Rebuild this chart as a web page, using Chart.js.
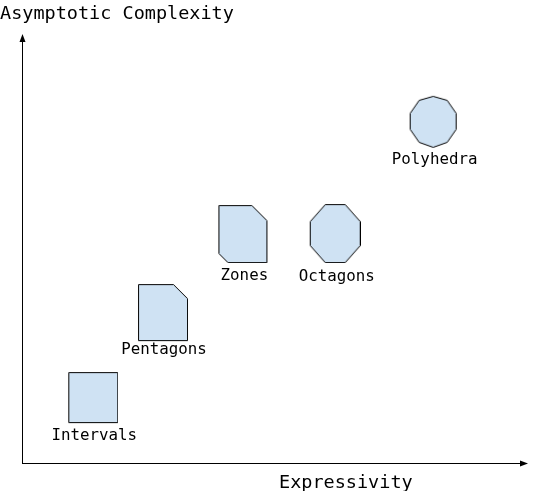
<!DOCTYPE html>
<html><head><meta charset="utf-8">
<script src="https://cdn.jsdelivr.net/npm/chart.js@4"></script>
<style>html,body{margin:0;padding:0;background:#fff}#w{width:535px;height:491px}</style>
</head><body><div id="w"><canvas id="c"></canvas></div>
<script>
const categories = ["Intervals","Pentagons","Zones","Octagons","Polyhedra"];
const expressivity = [14.0, 27.9, 43.9, 62.3, 81.8];
const complexity = [15.5, 35.5, 54.1, 54.1, 80.5];
const shapes = ["square","pentagon","zone","octagon","decagon"];

const FILL = "#cfe2f3";
function makeShape(kind){
  const W=52,H=60,c=document.createElement('canvas');c.width=W;c.height=H;
  const g=c.getContext('2d');g.fillStyle=FILL;g.strokeStyle='#000';g.lineWidth=1;
  let pts=[];
  const cx=W/2,cy=H/2;
  if(kind==="square"){const w=49,h=50;pts=[[cx-w/2,cy-h/2],[cx+w/2,cy-h/2],[cx+w/2,cy+h/2],[cx-w/2,cy+h/2]];}
  else if(kind==="pentagon"){const w=49,h=56,k=14;pts=[[cx-w/2,cy-h/2],[cx+w/2-k,cy-h/2],[cx+w/2,cy-h/2+k],[cx+w/2,cy+h/2],[cx-w/2,cy+h/2]];}
  else if(kind==="zone"){const w=48,h=57,k=15,j=9;pts=[[cx-w/2,cy-h/2],[cx+w/2-k,cy-h/2],[cx+w/2,cy-h/2+k],[cx+w/2,cy+h/2],[cx-w/2+j,cy+h/2],[cx-w/2,cy+h/2-j]];}
  else{const n=kind==="octagon"?8:10,rx=kind==="octagon"?25:24.5,ry=kind==="octagon"?29:25.5;
    const f=kind==="octagon"?Math.cos(Math.PI/n):1;
    for(let i=0;i<n;i++){const a=Math.PI/n+i*2*Math.PI/n;pts.push([cx+rx*Math.cos(a)/f,cy+ry*Math.sin(a)/f]);}
    pts=pts.map(p=>[Math.max(0.5,Math.min(W-1.5,p[0])),Math.max(0.5,Math.min(H-1.5,p[1]))]);}
  g.beginPath();pts.forEach((p,i)=>i?g.lineTo(Math.round(p[0])+0.5,Math.round(p[1])+0.5):g.moveTo(Math.round(p[0])+0.5,Math.round(p[1])+0.5));g.closePath();g.fill();g.stroke();
  return c;
}
const FONT='"DejaVu Sans Mono", monospace';
const deco={id:'deco',afterDatasetsDraw(ch){
  const g=ch.ctx,a=ch.chartArea,xs=ch.scales.x,ys=ch.scales.y;
  g.save();g.strokeStyle='#000';g.fillStyle='#000';g.lineWidth=1;
  g.beginPath();g.moveTo(a.left+0.5,a.bottom+0.5);g.lineTo(a.left+0.5,a.top);g.moveTo(a.left,a.bottom+0.5);g.lineTo(a.right,a.bottom+0.5);g.stroke();
  g.beginPath();g.moveTo(a.left+0.5,a.top-4);g.lineTo(a.left-2.5,a.top+4);g.lineTo(a.left+3.5,a.top+4);g.fill();
  g.beginPath();g.moveTo(a.right+4,a.bottom+0.5);g.lineTo(a.right-4,a.bottom-2.5);g.lineTo(a.right-4,a.bottom+3.5);g.fill();
  g.font='15.8px '+FONT;g.textAlign='center';g.textBaseline='middle';
  const off=[39,38,43,44,39];
  categories.forEach((n,i)=>{g.fillText(n,xs.getPixelForValue(expressivity[i])+2,ys.getPixelForValue(complexity[i])+off[i]);});
  g.font='18.5px '+FONT;g.textAlign='left';g.fillText('Asymptotic Complexity',0,14);
  g.fillText('Expressivity',279,483);
  g.restore();
}};
new Chart(document.getElementById('c'),{
  type:'scatter',
  data:{datasets:[{data:expressivity.map((x,i)=>({x,y:complexity[i]})),pointStyle:shapes.map(makeShape)}]},
  options:{responsive:true,maintainAspectRatio:false,animation:false,
    layout:{padding:{left:22,right:11,top:38,bottom:28}},
    plugins:{legend:{display:false},tooltip:{enabled:false}},
    scales:{x:{display:false,min:0,max:100},y:{display:false,min:0,max:100}}},
  plugins:[deco]
});
</script></body></html>
